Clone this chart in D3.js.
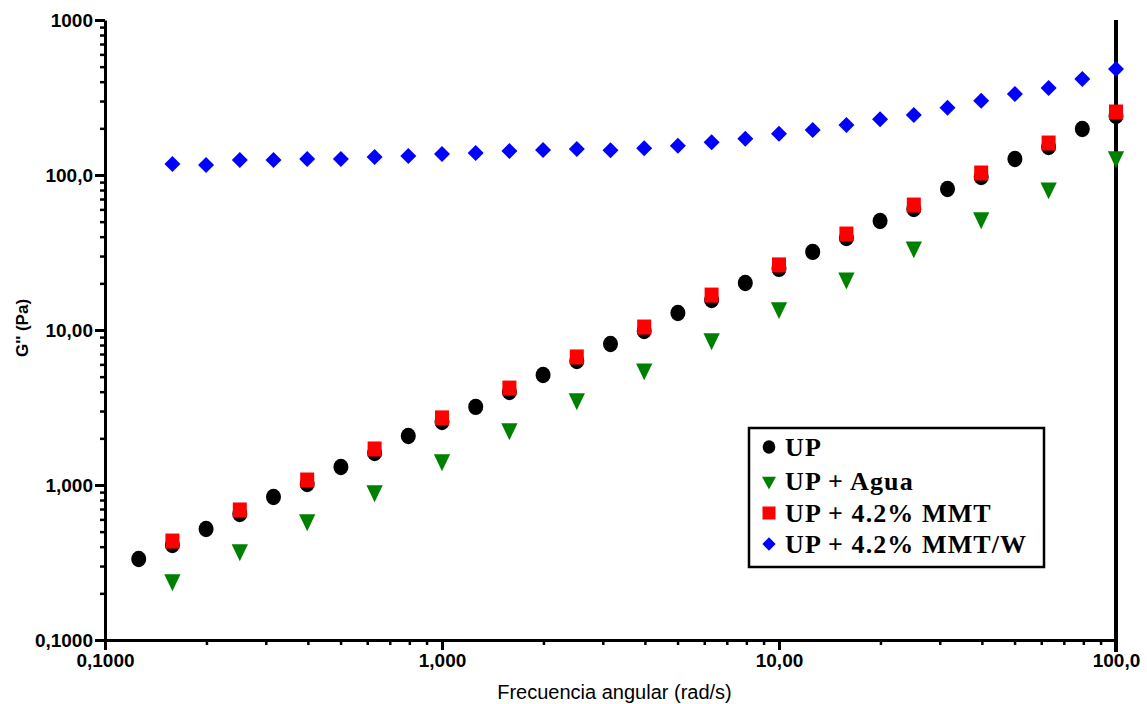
<!DOCTYPE html>
<html>
<head>
<meta charset="utf-8">
<script src="https://cdn.jsdelivr.net/npm/d3@7"></script>
<style>
  html, body { margin: 0; padding: 0; background: #fff; }
  svg { display: block; }
</style>
</head>
<body>
<svg id="chart" width="1147" height="704"></svg>
<script>
// ---- data ----
const freqAll = [0.1259, 0.1585, 0.1995, 0.2512, 0.3162, 0.3981, 0.5012, 0.631, 0.7943, 1.0,
                 1.259, 1.585, 1.995, 2.512, 3.162, 3.981, 5.012, 6.31, 7.943, 10,
                 12.59, 15.85, 19.95, 25.12, 31.62, 39.81, 50.12, 63.1, 79.43, 100];
const freqBlue = [0.1585, 0.1995, 0.2512, 0.3162, 0.3981, 0.5012, 0.631, 0.7943, 1.0,
                  1.259, 1.585, 1.995, 2.512, 3.162, 3.981, 5.012, 6.31, 7.943, 10,
                  12.59, 15.85, 19.95, 25.12, 31.62, 39.81, 50.12, 63.1, 79.43, 100];
const freqAlt = [0.1585, 0.2512, 0.3981, 0.631, 1.0, 1.585, 2.512, 3.981, 6.31, 10,
                 15.85, 25.12, 39.81, 63.1, 100];

const upValues = [0.333, 0.410, 0.520, 0.650, 0.837, 1.015, 1.306, 1.609, 2.07, 2.55,
                  3.19, 3.98, 5.13, 6.31, 8.12, 9.86, 12.87, 15.6, 20.1, 24.8,
                  31.9, 39.2, 50.5, 60.3, 81.2, 97.0, 126.9, 151.6, 198, 240];
const aguaValues = [0.244, 0.381, 0.595, 0.915, 1.45, 2.30, 3.59, 5.60, 8.75, 13.9,
                    21.6, 34.3, 52.8, 82.4, 130.7];
const mmtValues = [0.435, 0.690, 1.077, 1.708, 2.71, 4.22, 6.70, 10.45, 16.8, 26.3,
                   41.6, 64.0, 103, 160.8, 254.9];
const mmtwValues = [117.8, 116.0, 125, 125, 126.9, 126.9, 130.7, 132.6, 136.5, 138.6,
                    142.8, 145, 147.2, 144.3, 148.7, 154.5, 162.5, 171.4, 184.6, 195.1,
                    210.2, 228.6, 243.8, 271.8, 301.6, 333.2, 364.2, 416, 483];

const seriesNames = ["UP", "UP + Agua", "UP + 4.2% MMT", "UP + 4.2% MMT/W"];
const seriesColors = ["#000000", "#008000", "#ff0000", "#0000ff"];

const yTickValues = [0.1, 1, 10, 100, 1000];
const yTickLabels = ["0,1000", "1,000", "10,00", "100,0", "1000"];
const xTickValues = [0.1, 1, 10, 100];
const xTickLabels = ["0,1000", "1,000", "10,00", "100,0"];

const xTitle = "Frecuencia angular (rad/s)";
const yTitle = "G'' (Pa)";

// ---- layout ----
const svg = d3.select("#chart");
const x = d3.scaleLog().domain([0.1, 100]).range([105, 1116]);
const y = d3.scaleLog().domain([0.1, 1000]).range([640, 20]);

const minorOf = (lo, hi) => {
  const out = [];
  for (let d = lo; d < hi; d *= 10) for (let m = 2; m <= 9; m++) out.push(d * m);
  return out;
};

const tickFont = "'Liberation Sans', Arial, sans-serif";

// minor ticks
svg.append("g").attr("transform", "translate(105,0)")
  .call(d3.axisLeft(y).tickValues(minorOf(0.1, 1000)).tickSize(5).tickFormat(""))
  .call(g => g.select(".domain").remove())
  .call(g => g.selectAll("line").attr("stroke-width", 2.5));
svg.append("g").attr("transform", "translate(0,640)")
  .call(d3.axisBottom(x).tickValues(minorOf(0.1, 100)).tickSize(5).tickFormat(""))
  .call(g => g.select(".domain").remove())
  .call(g => g.selectAll("line").attr("stroke-width", 2.5));

// major axes
svg.append("g").attr("transform", "translate(105,0)")
  .call(d3.axisLeft(y).tickValues(yTickValues).tickSize(10).tickSizeOuter(0).tickPadding(2)
        .tickFormat((d, i) => yTickLabels[i]))
  .call(g => g.select(".domain").attr("stroke-width", 3))
  .call(g => g.selectAll("line").attr("stroke-width", 3))
  .call(g => g.selectAll("text").attr("font-family", tickFont).attr("font-weight", "bold")
        .attr("font-size", 19).attr("fill", "#000"));
svg.append("g").attr("transform", "translate(0,640)")
  .call(d3.axisBottom(x).tickValues(xTickValues).tickSize(10).tickSizeOuter(0).tickPadding(4)
        .tickFormat((d, i) => xTickLabels[i]))
  .call(g => g.select(".domain").attr("stroke-width", 3))
  .call(g => g.selectAll("line").attr("stroke-width", 3))
  .call(g => g.selectAll("text").attr("font-family", tickFont).attr("font-weight", "bold")
        .attr("font-size", 19).attr("fill", "#000"));

// right vertical line
svg.append("line")
  .attr("x1", x(100)).attr("x2", x(100))
  .attr("y1", y(1000)).attr("y2", y(0.1) + 12)
  .attr("stroke", "#000").attr("stroke-width", 4);

// axis titles
svg.append("text")
  .attr("x", (x(0.1) + x(100)) / 2 + 4).attr("y", 699)
  .attr("text-anchor", "middle")
  .attr("font-family", tickFont).attr("font-size", 20).attr("fill", "#000")
  .text(xTitle);
svg.append("text")
  .attr("transform", "translate(28,328) rotate(-90)")
  .attr("text-anchor", "middle")
  .attr("font-family", tickFont).attr("font-weight", "bold").attr("font-size", 17).attr("fill", "#000")
  .text(yTitle);

// ---- markers ----
const sqPath = d3.symbol().type(d3.symbolSquare);
const triPath = d3.symbol().type(d3.symbolTriangle);

function drawCircles(g, xs, vs, color, rx, ry) {
  g.selectAll(null).data(vs).enter().append("ellipse")
    .attr("cx", (d, i) => x(xs[i])).attr("cy", d => y(d))
    .attr("rx", rx).attr("ry", ry).attr("fill", color);
}
function drawTriangles(g, xs, vs, color, size, sy) {
  g.selectAll(null).data(vs).enter().append("path")
    .attr("d", triPath.size(size)())
    .attr("transform", (d, i) => `translate(${x(xs[i])},${y(d)}) scale(1,${-sy})`)
    .attr("fill", color);
}
function drawSquares(g, xs, vs, color, w, h) {
  g.selectAll(null).data(vs).enter().append("rect")
    .attr("x", (d, i) => x(xs[i]) - w / 2).attr("y", d => y(d) - h / 2)
    .attr("width", w).attr("height", h).attr("fill", color);
}
function drawDiamonds(g, xs, vs, color, size) {
  g.selectAll(null).data(vs).enter().append("path")
    .attr("d", sqPath.size(size)())
    .attr("transform", (d, i) => `translate(${x(xs[i])},${y(d)}) rotate(45)`)
    .attr("fill", color);
}

const marks = svg.append("g");
drawCircles(marks.append("g"), freqAll, upValues, seriesColors[0], 7.5, 8.2);
drawTriangles(marks.append("g"), freqAlt, aguaValues, seriesColors[1], 115, 1.2);
drawSquares(marks.append("g"), freqAlt, mmtValues, seriesColors[2], 14, 15);
drawDiamonds(marks.append("g"), freqBlue, mmtwValues, seriesColors[3], 128);

// ---- legend ----
const lg = svg.append("g");
lg.append("rect").attr("x", 749).attr("y", 428).attr("width", 295).attr("height", 139)
  .attr("fill", "#fff").attr("stroke", "#000").attr("stroke-width", 2.5);
const rowY = [447, 481, 513, 544];
const symX = 769;
lg.append("ellipse").attr("cx", symX).attr("cy", rowY[0]).attr("rx", 6.3).attr("ry", 6.8).attr("fill", seriesColors[0]);
lg.append("path").attr("d", triPath.size(85)())
  .attr("transform", `translate(${symX},${rowY[1]}) scale(1,-1.05)`).attr("fill", seriesColors[1]);
lg.append("rect").attr("x", symX - 6.5).attr("y", rowY[2] - 6.5).attr("width", 13).attr("height", 13).attr("fill", seriesColors[2]);
lg.append("path").attr("d", sqPath.size(88)())
  .attr("transform", `translate(${symX},${rowY[3]}) rotate(45)`).attr("fill", seriesColors[3]);
lg.selectAll(null).data(seriesNames).enter().append("text")
  .attr("x", 785).attr("y", (d, i) => rowY[i] + 8.5)
  .attr("font-family", "'Liberation Serif', 'Times New Roman', serif")
  .attr("font-weight", "bold").attr("font-size", 26).attr("letter-spacing", 1.1)
  .attr("fill", "#000")
  .text(d => d);
</script>
</body>
</html>
